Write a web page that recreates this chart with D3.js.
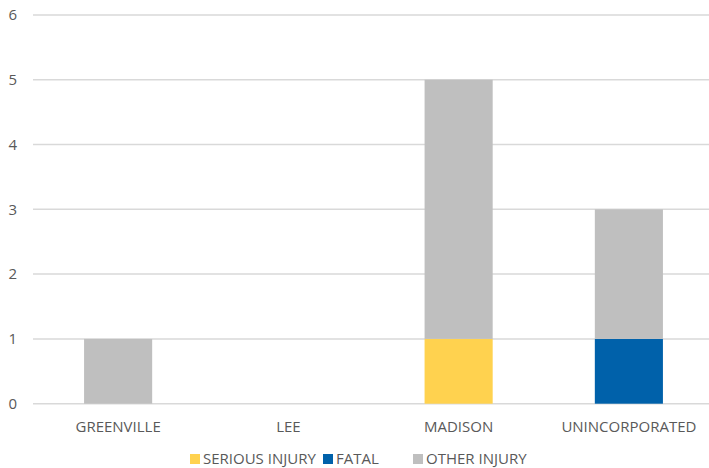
<!DOCTYPE html>
<html><head><meta charset="utf-8">
<script src="https://cdn.jsdelivr.net/npm/d3@7"></script>
<style>body{margin:0;background:#fff;}svg{display:block;font-family:"Open Sans",sans-serif;}</style>
</head><body>
<svg id="c" width="709" height="468"></svg>
<script>
const categories = ["GREENVILLE","LEE","MADISON","UNINCORPORATED"];
const seriousInjury = [0,0,1,0];
const fatal = [0,0,0,1];
const otherInjury = [1,0,4,2];
const yTicks = [0,1,2,3,4,5,6];
const seriesNames = ["SERIOUS INJURY","FATAL","OTHER INJURY"];
const colors = ["#FFD24F","#0061AA","#BFBFBF"];

const svg = d3.select("#c");
const x = d3.scaleBand().domain(categories).range([33,714]).paddingInner(0.6).paddingOuter(0.3);
const y = d3.scaleLinear().domain([0,6]).range([403.7,14.9]);

const table = categories.map((c,i)=>({cat:c, s:seriousInjury[i], f:fatal[i], o:otherInjury[i]}));
const stack = d3.stack().keys(["s","f","o"])(table);

svg.append("g").selectAll("line").data(yTicks).join("line")
  .attr("x1",33).attr("x2",709).attr("y1",d=>y(d)).attr("y2",d=>y(d))
  .attr("stroke","#D9D9D9").attr("stroke-width",1.5);

svg.append("g").selectAll("text").data(yTicks).join("text")
  .attr("x",17).attr("y",d=>y(d)).attr("dy","0.35em").attr("text-anchor","end")
  .attr("fill","#595959").attr("font-size",15).text(d=>d);

svg.append("g").selectAll("g").data(stack).join("g").attr("fill",(d,i)=>colors[i])
  .selectAll("rect").data(d=>d).join("rect")
  .attr("x",d=>x(d.data.cat)).attr("width",x.bandwidth())
  .attr("y",d=>y(d[1])).attr("height",d=>y(d[0])-y(d[1]));

svg.append("g").selectAll("text").data(categories).join("text")
  .attr("x",d=>x(d)+x.bandwidth()/2).attr("y",427).attr("dy","0.35em").attr("text-anchor","middle")
  .attr("fill","#595959").attr("font-size",15).text(d=>d);

const legX = [190,323,413];
const lg = svg.append("g").selectAll("g").data(seriesNames).join("g")
  .attr("transform",(d,i)=>`translate(${legX[i]},459)`);
lg.append("rect").attr("x",0).attr("y",-5).attr("width",10).attr("height",10).attr("fill",(d,i)=>colors[i]);
lg.append("text").attr("x",13).attr("y",0).attr("dy","0.35em").attr("fill","#595959").attr("font-size",15).text(d=>d);
</script>
</body></html>
